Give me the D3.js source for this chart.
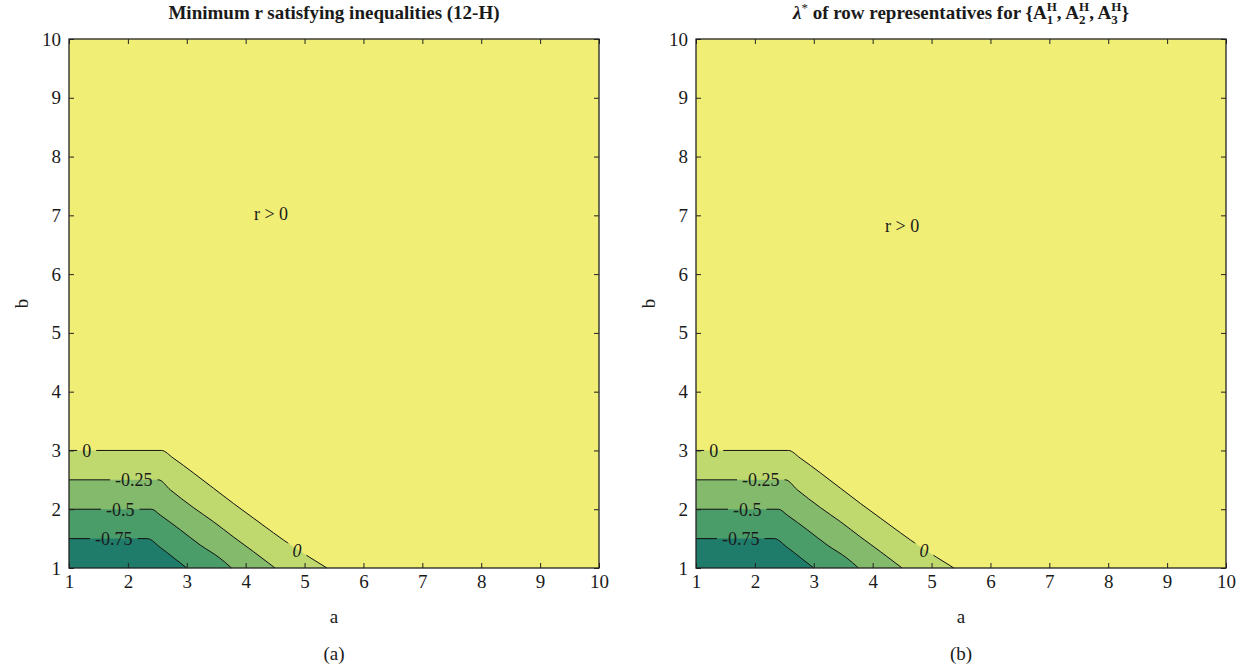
<!DOCTYPE html>
<html>
<head>
<meta charset="utf-8">
<script src="https://cdn.jsdelivr.net/npm/d3@7"></script>
<style>
  body { margin: 0; background: #fff; }
  text { font-family: "Liberation Serif", "DejaVu Serif", serif; fill: #1a1a1a; }
</style>
</head>
<body>
<svg id="chart" width="1248" height="667"></svg>
<script>
// axis ticks (both axes)
const ticks = [1, 2, 3, 4, 5, 6, 7, 8, 9, 10];

// contour levels and their traced lines, [a, b]
const levels = [0, -0.25, -0.5, -0.75];
const line0 = [[1, 3], [2.57, 3], [2.77, 2.87], [3.11, 2.62], [3.45, 2.36], [3.79, 2.1],
  [4.13, 1.85], [4.47, 1.6], [4.81, 1.36], [5.09, 1.18], [5.38, 1]];
const line025 = [[1, 2.5], [2.52, 2.5], [2.72, 2.33], [3.11, 2.03], [3.45, 1.79],
  [3.79, 1.53], [4.13, 1.28], [4.5, 1]];
const line05 = [[1, 2], [2.4, 2], [2.55, 1.9], [2.89, 1.65], [3.23, 1.39], [3.56, 1.17], [3.76, 1]];
const line075 = [[1, 1.5], [2.33, 1.5], [2.55, 1.35], [2.77, 1.18], [3.0, 1]];
const contourLines = [line0, line025, line05, line075];

// inline contour labels: [a, b, text, italic]
const contourLabels = [
  [1.3, 3, "0", false],
  [2.1, 2.5, "-0.25", false],
  [1.87, 2, "-0.5", false],
  [1.76, 1.5, "-0.75", false],
  [4.87, 1.29, "0", true]
];

// region label positions per panel
const regionLabelA = [4.43, 7.02];
const regionLabelB = [4.5, 6.82];

const aboveColor = "#f1ee76";
const bandColor = d3.scaleOrdinal().domain(levels)
  .range(["#bfd96f", "#84ba6b", "#4a9d69", "#1f7c6a"]);

const svg = d3.select("#chart");
const plotTop = 39, plotBottom = 568, size = 530;
const fontSize = "18px";

function drawPanel(left, id, regionLabel, caption) {
  const x = d3.scaleLinear().domain([1, 10]).range([left, left + size]);
  const y = d3.scaleLinear().domain([1, 10]).range([plotBottom, plotTop]);
  const g = svg.append("g");

  g.append("rect")
    .attr("x", x(1)).attr("y", y(10))
    .attr("width", x(10) - x(1)).attr("height", y(1) - y(10))
    .attr("fill", aboveColor);

  const area = d3.area()
    .x(d => x(d[0])).y0(y(1)).y1(d => y(d[1]))
    .curve(d3.curveMonotoneX);
  const line = d3.line()
    .x(d => x(d[0])).y(d => y(d[1]))
    .curve(d3.curveMonotoneX);

  contourLines.forEach((pts, i) => {
    g.append("path").attr("d", area(pts)).attr("fill", bandColor(levels[i]));
  });

  // mask punches gaps in the contour lines behind the labels
  const mask = svg.append("defs").append("mask").attr("id", "gap" + id)
    .attr("maskUnits", "userSpaceOnUse")
    .attr("x", 0).attr("y", 0).attr("width", 1248).attr("height", 667);
  mask.append("rect").attr("width", 1248).attr("height", 667).attr("fill", "#fff");

  const lineG = g.append("g").attr("mask", `url(#gap${id})`);
  contourLines.forEach(pts => {
    lineG.append("path").attr("d", line(pts))
      .attr("fill", "none").attr("stroke", "#111").attr("stroke-width", 1);
  });

  contourLabels.forEach(([a, b, t, it]) => {
    const txt = g.append("text")
      .attr("x", x(a)).attr("y", y(b)).attr("dy", "0.35em")
      .attr("text-anchor", "middle")
      .style("font-size", fontSize)
      .style("font-style", it ? "italic" : "normal")
      .text(t);
    const bb = txt.node().getBBox();
    mask.append("rect")
      .attr("x", bb.x - 5).attr("y", bb.y + 2)
      .attr("width", bb.width + 10).attr("height", bb.height - 4)
      .attr("fill", "#000");
  });

  g.append("text")
    .attr("x", x(regionLabel[0])).attr("y", y(regionLabel[1])).attr("dy", "0.35em")
    .attr("text-anchor", "middle").style("font-size", fontSize)
    .text("r > 0");

  // axes with inward ticks on all sides
  const styleAxis = sel => {
    sel.select(".domain").remove();
    sel.selectAll(".tick line").attr("stroke", "#222");
    sel.selectAll(".tick text")
      .style("font-family", '"Liberation Serif", "DejaVu Serif", serif')
      .style("font-size", "19px").attr("fill", "#1a1a1a");
  };
  g.append("g").attr("transform", `translate(0,${plotBottom})`)
    .call(d3.axisBottom(x).tickValues(ticks).tickSizeInner(-5).tickSizeOuter(0).tickPadding(7))
    .call(styleAxis);
  g.append("g").attr("transform", `translate(0,${plotTop})`)
    .call(d3.axisTop(x).tickValues(ticks).tickSizeInner(-5).tickSizeOuter(0).tickFormat(""))
    .call(styleAxis);
  g.append("g").attr("transform", `translate(${left},0)`)
    .call(d3.axisLeft(y).tickValues(ticks).tickSizeInner(-5).tickSizeOuter(0).tickPadding(8))
    .call(styleAxis);
  g.append("g").attr("transform", `translate(${left + size},0)`)
    .call(d3.axisRight(y).tickValues(ticks).tickSizeInner(-5).tickSizeOuter(0).tickFormat(""))
    .call(styleAxis);

  g.append("rect")
    .attr("x", x(1)).attr("y", y(10))
    .attr("width", x(10) - x(1)).attr("height", y(1) - y(10))
    .attr("fill", "none").attr("stroke", "#222").attr("stroke-width", 1.3);

  const cx = left + size / 2;
  g.append("text").attr("x", cx).attr("y", 623).attr("text-anchor", "middle")
    .style("font-size", "19px").text("a");
  g.append("text").attr("transform", `translate(${left - 48},${(plotTop + plotBottom) / 2}) rotate(-90)`)
    .attr("text-anchor", "middle").attr("dy", "0.35em")
    .style("font-size", "19px").text("b");
  g.append("text").attr("x", cx).attr("y", 660).attr("text-anchor", "middle")
    .style("font-size", "19px").text(caption);
  return cx;
}

const cxA = drawPanel(69, "a", regionLabelA, "(a)");
const cxB = drawPanel(696, "b", regionLabelB, "(b)");

// titles
svg.append("text").attr("x", cxA).attr("y", 19).attr("text-anchor", "middle")
  .style("font-size", "19px").style("font-weight", "bold")
  .text("Minimum r satisfying inequalities (12-H)");

function measure(str, fs) {
  const t = svg.append("text").style("font-size", fs + "px").style("font-weight", "bold").text(str);
  const w = t.node().getComputedTextLength();
  t.remove();
  return w;
}
const small = 13;
const wH = measure("H", small);
const title = svg.append("text").attr("x", cxB).attr("y", 19).attr("text-anchor", "middle")
  .style("font-size", "19px").style("font-weight", "bold");
title.append("tspan").style("font-style", "italic").text("\u03bb");
title.append("tspan").attr("dy", -7).style("font-size", small + "px").style("font-weight", "normal").text("*");
title.append("tspan").attr("dy", 7).text(" of row representatives for {A");
["1", "2", "3"].forEach((s, i) => {
  const w1 = measure(s, small);
  title.append("tspan").attr("dy", -8).style("font-size", small + "px").text("H");
  title.append("tspan").attr("dx", -wH).attr("dy", 13).style("font-size", small + "px").text(s);
  title.append("tspan").attr("dx", Math.max(0, wH - w1)).attr("dy", -5)
    .text(i < 2 ? ", A" : "}");
});
</script>
</body>
</html>
